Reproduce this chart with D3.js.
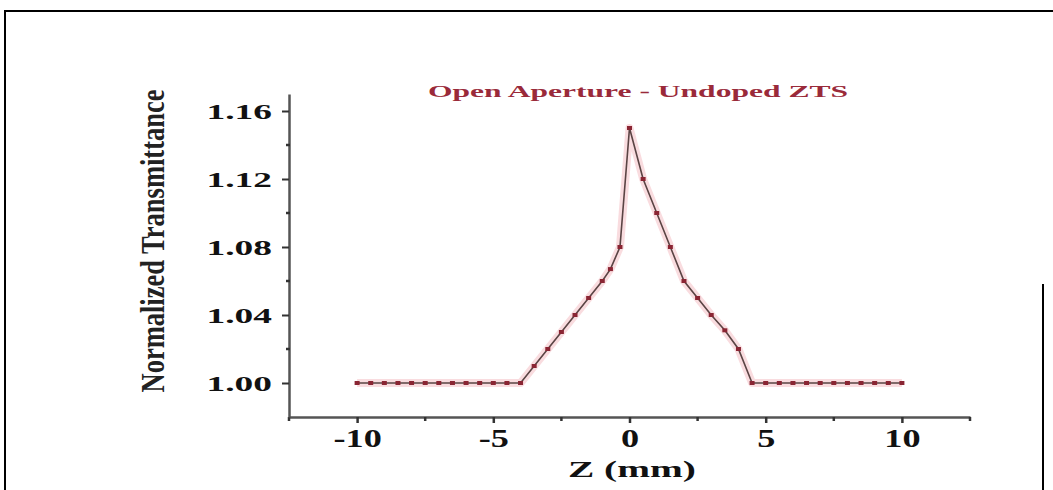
<!DOCTYPE html>
<html>
  <head>
    <meta charset="utf-8">
    <script src="https://d3js.org/d3.v7.min.js"></script>
    <title>Open Aperture - Undoped ZTS</title>
    <style type="text/css">
      body { margin: 0; background: #fff; }
      svg { display: block; }
      text { font-family: "Liberation Serif", "DejaVu Serif", serif; }
    </style>
  </head>
  <body>
    <div id="chart"></div>
    <script type="text/javascript">
      // z position (mm) and normalized transmittance
      var zPos = [-10, -9.5, -9, -8.5, -8, -7.5, -7, -6.5, -6, -5.5, -5, -4.5, -4,
                  -3.5, -3, -2.5, -2, -1.5, -1, -0.7, -0.35, 0,
                  0.5, 1, 1.5, 2, 2.5, 3, 3.5, 4,
                  4.5, 5, 5.5, 6, 6.5, 7, 7.5, 8, 8.5, 9, 9.5, 10];
      var transmittance = [1, 1, 1, 1, 1, 1, 1, 1, 1, 1, 1, 1, 1,
                           1.01, 1.02, 1.03, 1.04, 1.05, 1.06, 1.067, 1.08, 1.15,
                           1.12, 1.10, 1.08, 1.06, 1.05, 1.04, 1.031, 1.02,
                           1, 1, 1, 1, 1, 1, 1, 1, 1, 1, 1, 1];
      var xTicks = [-10, -5, 0, 5, 10],
          xMinor = [-12.5, -7.5, -2.5, 2.5, 7.5, 12.5],
          yTicks = [1.00, 1.04, 1.08, 1.12, 1.16],
          yMinor = [1.02, 1.06, 1.10, 1.14];
      var title = "Open Aperture - Undoped ZTS",
          xTitle = "Z (mm)",
          yTitle = "Normalized Transmittance";

      var width = 1053, height = 490,
          plotLeft = 289, plotRight = 970, plotTop = 94, plotBottom = 417;

      var svg = d3.select("#chart").append("svg")
          .attr("width", width)
          .attr("height", height);

      // frame lines of the original figure
      svg.append("path")
          .attr("d", "M5,490 V11 H1053")
          .attr("fill", "none")
          .attr("stroke", "#000")
          .attr("stroke-width", 2);
      svg.append("line")
          .attr("x1", 1043).attr("x2", 1043)
          .attr("y1", 284).attr("y2", 490)
          .attr("stroke", "#000")
          .attr("stroke-width", 2);

      var x = d3.scaleLinear().domain([-12.5, 12.5]).range([plotLeft, plotRight]);
      var y = d3.scaleLinear().domain([0.98, 1.17]).range([plotBottom, plotTop]);

      var pts = zPos.map(function(z, i) { return {z: z, t: transmittance[i]}; });
      var line = d3.line()
          .x(function(d) { return x(d.z); })
          .y(function(d) { return y(d.t); });

      // pale halo around the curve
      svg.append("path")
          .datum(pts)
          .attr("d", line)
          .attr("fill", "none")
          .attr("stroke", "#f7cdd2")
          .attr("stroke-width", 8)
          .attr("stroke-linejoin", "round")
          .attr("opacity", 0.7);

      svg.append("path")
          .datum(pts)
          .attr("d", line)
          .attr("fill", "none")
          .attr("stroke", "#5a4444")
          .attr("stroke-width", 1.6);

      svg.append("g")
        .selectAll("rect")
        .data(pts)
        .enter()
          .append("rect")
          .attr("x", function(d) { return x(d.z) - 2.5; })
          .attr("y", function(d) { return y(d.t) - 2; })
          .attr("width", 5)
          .attr("height", 4)
          .attr("fill", "#8a2533");

      // x axis
      var gx = svg.append("g")
          .attr("transform", "translate(0," + plotBottom + ")")
          .call(d3.axisBottom(x).tickValues(xTicks).tickSize(6).tickPadding(6)
                .tickFormat(d3.format("d")).tickSizeOuter(0));
      gx.select(".domain").attr("stroke", "#555").attr("stroke-width", 2.5);
      gx.selectAll(".tick line").attr("stroke", "#333").attr("stroke-width", 2.5);
      gx.selectAll(".tick text")
          .attr("font-size", 25)
          .attr("font-weight", "bold")
          .attr("fill", "#111")
          .attr("transform", "scale(1.45,1)")
          .text(function(d) { return d < 0 ? "-" + Math.abs(d) : d; });
      gx.selectAll(".minor")
        .data(xMinor)
        .enter()
          .append("line")
          .attr("x1", function(d) { return x(d); })
          .attr("x2", function(d) { return x(d); })
          .attr("y1", 0).attr("y2", 4)
          .attr("stroke", "#333")
          .attr("stroke-width", 2.5);

      // y axis
      var gy = svg.append("g")
          .attr("transform", "translate(" + plotLeft + ",0)")
          .call(d3.axisLeft(y).tickValues(yTicks).tickSize(7)
                .tickFormat(d3.format(".2f")).tickSizeOuter(0));
      gy.select(".domain").attr("stroke", "#555").attr("stroke-width", 2.5);
      gy.selectAll(".tick line").attr("stroke", "#333").attr("stroke-width", 2);
      gy.selectAll(".tick text")
          .attr("font-size", 22)
          .attr("font-weight", "bold")
          .attr("fill", "#111")
          .attr("x", -17 / 1.7)
          .attr("transform", "scale(1.7,1)");
      gy.selectAll(".minor")
        .data(yMinor)
        .enter()
          .append("line")
          .attr("x1", -3).attr("x2", 1)
          .attr("y1", function(d) { return y(d); })
          .attr("y2", function(d) { return y(d); })
          .attr("stroke", "#333")
          .attr("stroke-width", 2.5);

      // titles
      svg.append("text")
          .attr("x", 638)
          .attr("y", 97)
          .attr("text-anchor", "middle")
          .attr("font-size", 16)
          .attr("font-weight", "bold")
          .attr("fill", "#9a2a3a")
          .attr("textLength", 420)
          .attr("lengthAdjust", "spacingAndGlyphs")
          .text(title);

      svg.append("text")
          .attr("x", 632)
          .attr("y", 477)
          .attr("text-anchor", "middle")
          .attr("font-size", 23)
          .attr("font-weight", "bold")
          .attr("fill", "#111")
          .attr("textLength", 128)
          .attr("lengthAdjust", "spacingAndGlyphs")
          .text(xTitle);

      svg.append("text")
          .attr("transform", "translate(152,241) scale(1.6,1) rotate(-90)")
          .attr("text-anchor", "middle")
          .attr("dy", "0.35em")
          .attr("font-size", 21)
          .attr("font-weight", "bold")
          .attr("fill", "#222")
          .attr("textLength", 303)
          .attr("lengthAdjust", "spacingAndGlyphs")
          .text(yTitle);
    </script>
  </body>
</html>
